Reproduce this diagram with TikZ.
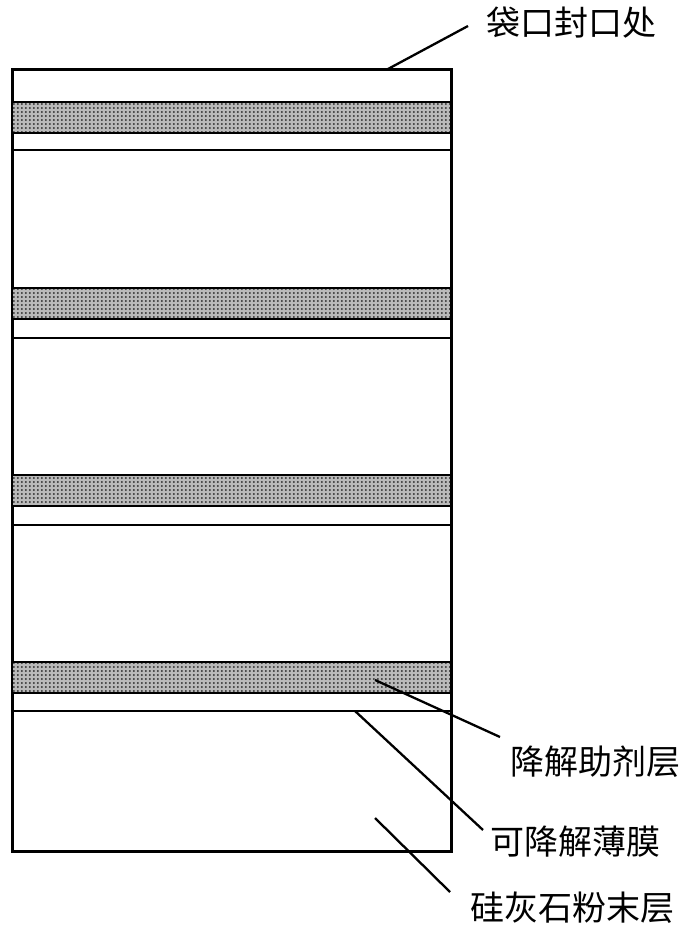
\documentclass[tikz,border=0pt]{standalone}
\usepackage{fontspec}
\newfontfamily\cjk{Noto Sans CJK SC}
\usetikzlibrary{patterns.meta}
\tikzdeclarepattern{
  name=bagdots,
  type=uncolored,
  bounding box={(0pt,0pt) and (4.4pt,4.4pt)},
  tile size={(4.4pt,4.4pt)},
  code={\fill (2.2pt,2.2pt) circle (1.1pt);}
}
\tikzset{
  frame/.style={draw=black, line width=2pt},
  dotsfill/.style={pattern=bagdots, pattern color=black!85},
  film/.style={draw=black, line width=1.8pt},
  leader/.style={draw=black, line width=2.3pt},
  lbl/.style={inner sep=0pt, anchor=west, font=\cjk\fontsize{34}{40}\selectfont}
}
\begin{document}
\begin{tikzpicture}[x=1pt,y=-1pt]
\useasboundingbox (0,0) rectangle (689,939);
\fill[white] (0,0) rectangle (689,939);
% outer bag
\node[frame, minimum width=438pt, minimum height=781pt, inner sep=0pt, anchor=north west] (bag) at (12,69) {};
% bands and films
\foreach \i/\t/\f in {1/102/150, 2/288/338, 3/475/525, 4/662/711}{
  \fill[black!27] (12,\t) rectangle (450,\t+31);
  \fill[dotsfill] (12,\t) rectangle (450,\t+31);
  \draw[film] (12,\t) -- (450,\t);
  \draw[film] (12,\t+31) -- (450,\t+31);
  \draw[film] (12,\f) -- (450,\f);
}
\draw[frame] (bag.north west) rectangle (bag.south east);
% labels
\node[lbl] (seal) at (486,23) {袋口封口处};
\node[lbl] (agent) at (510,762) {降解助剂层};
\node[lbl] (filmlbl) at (490,842) {可降解薄膜};
\node[lbl] (powder) at (470,908) {硅灰石粉末层};
% leader anchors
\coordinate (sealp) at (388,69);
\coordinate (sealq) at (468,26);
\coordinate (agentp) at (375,680);
\coordinate (agentq) at (500,737);
\coordinate (filmp) at (355,711);
\coordinate (filmq) at (483,830);
\coordinate (powderp) at (375,818);
\coordinate (powderq) at (450,892);
\draw[leader] (sealp) -- (sealq);
\draw[leader] (agentp) -- (agentq);
\draw[leader] (filmp) -- (filmq);
\draw[leader] (powderp) -- (powderq);
\end{tikzpicture}
\end{document}
